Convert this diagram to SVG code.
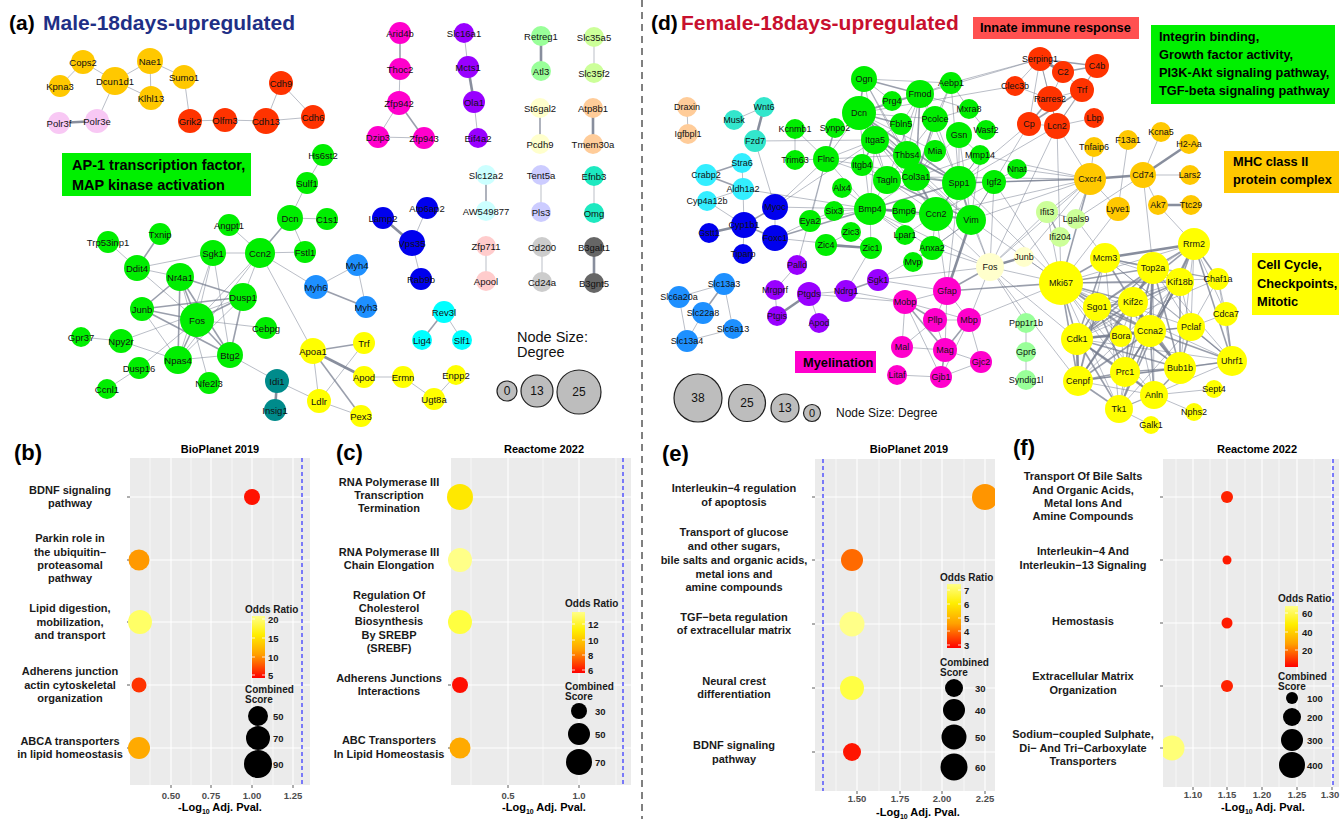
<svg xmlns="http://www.w3.org/2000/svg" width="1341" height="819" viewBox="0 0 1341 819">
<style>
text{font-family:"Liberation Sans",Arial,Helvetica,sans-serif}
.e path{fill:none;stroke:#737a8c}
.e .t{stroke-width:.9;stroke-opacity:.55}
.e .w{stroke-width:1.6;stroke-opacity:.72}
.e .k{stroke-width:2.6;stroke-opacity:.85}
.na text{font-size:9.5px;text-anchor:middle;dominant-baseline:central;fill:#111}
.nd text{font-size:9px;text-anchor:middle;dominant-baseline:central;fill:#111}
.o{fill:#ffc800}.pk{fill:#f8c8f4}.r{fill:#ff3300}.g{fill:#00ee00}.lb{fill:#1e90ff}.tl{fill:#008b8b}
.y{fill:#ffff00}.b{fill:#0000ee}.cy{fill:#00ffff}.mg{fill:#ff00cc}.p{fill:#9900ff}.l1{fill:#99ff99}
.ly{fill:#ffffcc}.l2{fill:#ccff99}.pe{fill:#ffcc99}.lc{fill:#ccffff}.lv{fill:#ccccff}.aq{fill:#1de9c0}
.pp{fill:#ffcccc}.gr{fill:#cccccc}.dg{fill:#666666}.tq{fill:#33e6cc}.c2{fill:#33eeff}
.hd{font-size:21px;font-weight:bold}
.box{font-size:12.8px;font-weight:bold;fill:#000}
.lab{font-size:11px;font-weight:bold;text-anchor:middle;fill:#1a1a1a}
.ttl{font-size:11px;font-weight:bold;text-anchor:middle;fill:#000}
.tk{font-size:9.5px;font-weight:bold;text-anchor:middle;fill:#4d4d4d}
.ax{font-size:11px;font-weight:bold;text-anchor:middle;fill:#000}
.lg{font-size:10px;font-weight:bold;fill:#1a1a1a}
.lgn{font-size:9.5px;font-weight:bold;fill:#1a1a1a;dominant-baseline:central}
.pl{font-size:22px;font-weight:bold;fill:#000}
.mj{stroke:#fff;stroke-width:1.1}
.mn{stroke:#fff;stroke-width:.6}
.dsh{stroke:#3d3dff;stroke-width:1.3;stroke-dasharray:4 3}
.tc{stroke:#333;stroke-width:.8}
.leg circle{fill:#bdbdbd;stroke:#222;stroke-width:1.2}
.leg text{text-anchor:middle;dominant-baseline:central;fill:#111}
</style>
<defs>
<linearGradient id="cb" x1="0" y1="0" x2="0" y2="1">
<stop offset="0" stop-color="#ffff88"/><stop offset=".3" stop-color="#ffee00"/><stop offset=".62" stop-color="#ffa000"/><stop offset="1" stop-color="#ff0000"/>
</linearGradient>
<clipPath id="ce"><rect x="815" y="459" width="180" height="332"/></clipPath>
<clipPath id="cf"><rect x="1163" y="459" width="176" height="328"/></clipPath>
</defs>
<rect width="1341" height="819" fill="#fff"/>
<line x1="642" y1="0" x2="642" y2="819" stroke="#000" stroke-width="1" stroke-dasharray="7 5"/>

<!-- Panel (a) headings -->
<text class="hd" x="9" y="30" fill="#000">(a)</text>
<text class="hd" x="43" y="30" fill="#1f2f86">Male-18days-upregulated</text>
<g id="a-box-ap1">
<rect x="62" y="153" width="189" height="43" fill="#00f000"/>
<text x="72" y="170" font-size="14.5" font-weight="bold">AP-1 transcription factor,</text>
<text x="72" y="190" font-size="14.5" font-weight="bold">MAP kinase activation</text>
</g>

<!-- Panel (a) connectors -->
<g id="a-connectors" class="e">
<path class="t" d="M83 62L60 86"/><path class="t" d="M83 62L115 81"/><path class="t" d="M115 81L150 61"/>
<path class="t" d="M115 81L151 98"/><path class="t" d="M150 61L151 98"/><path class="t" d="M150 61L184 77"/>
<path class="t" d="M115 81L97 121"/><path class="k" d="M59 123L97 121"/><path class="t" d="M184 77L190 121"/>
<path class="t" d="M190 121L225 120"/><path class="t" d="M225 120L266 121"/><path class="t" d="M266 121L281 83"/>
<path class="t" d="M281 83L313 117"/><path class="t" d="M266 121L313 117"/>
<path class="t" d="M323 155L307 183"/><path class="t" d="M307 183L290 218"/><path class="t" d="M290 218L327 219"/>
<path class="t" d="M290 218L305 252"/><path class="w" d="M290 218L260 253"/><path class="t" d="M229 225L260 253"/>
<path class="t" d="M260 253L305 252"/><path class="t" d="M213 253L260 253"/><path class="t" d="M260 253L316 287"/>
<path class="t" d="M260 253L313 351"/><path class="t" d="M260 253L197 320"/><path class="t" d="M260 253L243 297"/>
<path class="t" d="M260 253L178 360"/><path class="w" d="M160 234L137 268"/><path class="t" d="M108 242L137 268"/>
<path class="t" d="M137 268L213 253"/><path class="t" d="M137 268L180 277"/><path class="t" d="M137 268L197 320"/>
<path class="w" d="M180 277L142 309"/><path class="w" d="M180 277L197 320"/><path class="w" d="M180 277L243 297"/>
<path class="w" d="M180 277L230 355"/><path class="w" d="M180 277L178 360"/><path class="t" d="M213 253L197 320"/>
<path class="t" d="M213 253L230 355"/><path class="t" d="M213 253L178 360"/><path class="w" d="M142 309L197 320"/>
<path class="w" d="M142 309L243 297"/><path class="w" d="M142 309L230 355"/><path class="t" d="M142 309L178 360"/>
<path class="w" d="M197 320L243 297"/><path class="w" d="M197 320L230 355"/><path class="w" d="M197 320L178 360"/>
<path class="t" d="M197 320L266 328"/><path class="w" d="M243 297L230 355"/><path class="t" d="M243 297L178 360"/>
<path class="t" d="M121 341L81 337"/><path class="t" d="M121 341L243 297"/><path class="t" d="M121 341L178 360"/>
<path class="t" d="M178 360L230 355"/><path class="t" d="M209 383L180 277"/><path class="t" d="M139 368L197 320"/>
<path class="t" d="M107 389L139 368"/><path class="t" d="M230 355L277 381"/><path class="k" d="M277 381L275 410"/>
<path class="t" d="M277 381L319 401"/><path class="t" d="M316 287L357 265"/><path class="w" d="M316 287L366 307"/>
<path class="t" d="M357 265L366 307"/><path class="w" d="M313 351L364 343"/><path class="k" d="M313 351L364 377"/>
<path class="t" d="M313 351L319 401"/><path class="w" d="M313 351L361 416"/><path class="t" d="M364 343L319 401"/>
<path class="t" d="M319 401L361 416"/><path class="t" d="M364 377L403 377"/><path class="t" d="M403 377L434 399"/>
<path class="t" d="M434 399L456 375"/>
<path class="k" d="M383 218L412 243"/><path class="t" d="M427 208L412 243"/><path class="t" d="M412 243L421 279"/>
<path class="w" d="M400 33L400 69"/><path class="t" d="M400 69L399 103"/><path class="t" d="M399 103L378 137"/>
<path class="w" d="M399 103L424 138"/><path class="t" d="M378 137L424 138"/>
<path class="t" d="M464 33L468 67"/><path class="k" d="M468 67L474 102"/><path class="t" d="M474 102L478 138"/>
<path class="k" d="M541 36L541 71"/><path class="w" d="M540 108L540 144"/><path class="t" d="M594 37L594 73"/>
<path class="k" d="M593 108L593 144"/><path class="w" d="M486 175L486 211"/><path class="t" d="M541 175L541 212"/>
<path class="t" d="M594 176L594 213"/><path class="t" d="M486 246L486 281"/><path class="t" d="M542 247L542 282"/>
<path class="k" d="M594 247L594 283"/><path class="w" d="M444 312L422 340"/><path class="t" d="M444 312L462 340"/>
</g>

<!-- Panel (a) nodes -->
<g class="na">
<g id="a-Cops2"><circle class="o" cx="83" cy="62" r="12"/><text x="83" y="62">Cops2</text></g>
<g id="a-Kpna3"><circle class="o" cx="60" cy="86" r="11"/><text x="60" y="86">Kpna3</text></g>
<g id="a-Dcun1d1"><circle class="o" cx="115" cy="81" r="14"/><text x="115" y="81">Dcun1d1</text></g>
<g id="a-Nae1"><circle class="o" cx="150" cy="61" r="13"/><text x="150" y="61">Nae1</text></g>
<g id="a-Klhl13"><circle class="o" cx="151" cy="98" r="12"/><text x="151" y="98">Klhl13</text></g>
<g id="a-Sumo1"><circle class="o" cx="184" cy="77" r="12"/><text x="184" y="77">Sumo1</text></g>
<g id="a-Polr3f"><circle class="pk" cx="59" cy="123" r="11"/><text x="59" y="123">Polr3f</text></g>
<g id="a-Polr3e"><circle class="pk" cx="97" cy="121" r="12"/><text x="97" y="121">Polr3e</text></g>
<g id="a-Grik2"><circle class="r" cx="190" cy="121" r="12"/><text x="190" y="121">Grik2</text></g>
<g id="a-Olfm3"><circle class="r" cx="225" cy="120" r="12"/><text x="225" y="120">Olfm3</text></g>
<g id="a-Cdh13"><circle class="r" cx="266" cy="121" r="13"/><text x="266" y="121">Cdh13</text></g>
<g id="a-Cdh9"><circle class="r" cx="281" cy="83" r="12"/><text x="281" y="83">Cdh9</text></g>
<g id="a-Cdh6"><circle class="r" cx="313" cy="117" r="12"/><text x="313" y="117">Cdh6</text></g>
<g id="a-Hs6st2"><circle class="g" cx="323" cy="155" r="11"/><text x="323" y="155">Hs6st2</text></g>
<g id="a-Sulf1"><circle class="g" cx="307" cy="183" r="11"/><text x="307" y="183">Sulf1</text></g>
<g id="a-Dcn"><circle class="g" cx="290" cy="218" r="13"/><text x="290" y="218">Dcn</text></g>
<g id="a-C1s1"><circle class="g" cx="327" cy="219" r="11"/><text x="327" y="219">C1s1</text></g>
<g id="a-Fstl1"><circle class="g" cx="305" cy="252" r="11"/><text x="305" y="252">Fstl1</text></g>
<g id="a-Angpt1"><circle class="g" cx="229" cy="225" r="11"/><text x="229" y="225">Angpt1</text></g>
<g id="a-Txnip"><circle class="g" cx="160" cy="234" r="11"/><text x="160" y="234">Txnip</text></g>
<g id="a-Trp53inp1"><circle class="g" cx="108" cy="242" r="11"/><text x="108" y="242">Trp53inp1</text></g>
<g id="a-Ccn2"><circle class="g" cx="260" cy="253" r="15"/><text x="260" y="253">Ccn2</text></g>
<g id="a-Sgk1"><circle class="g" cx="213" cy="253" r="13"/><text x="213" y="253">Sgk1</text></g>
<g id="a-Ddit4"><circle class="g" cx="137" cy="268" r="13"/><text x="137" y="268">Ddit4</text></g>
<g id="a-Nr4a1"><circle class="g" cx="180" cy="277" r="14"/><text x="180" y="277">Nr4a1</text></g>
<g id="a-Dusp1"><circle class="g" cx="243" cy="297" r="14"/><text x="243" y="297">Dusp1</text></g>
<g id="a-Junb"><circle class="g" cx="142" cy="309" r="12"/><text x="142" y="309">Junb</text></g>
<g id="a-Fos"><circle class="g" cx="197" cy="320" r="17"/><text x="197" y="320">Fos</text></g>
<g id="a-Cebpg"><circle class="g" cx="266" cy="328" r="11"/><text x="266" y="328">Cebpg</text></g>
<g id="a-Gpr37"><circle class="g" cx="81" cy="337" r="10"/><text x="81" y="337">Gpr37</text></g>
<g id="a-Npy2r"><circle class="g" cx="121" cy="341" r="12"/><text x="121" y="341">Npy2r</text></g>
<g id="a-Dusp16"><circle class="g" cx="139" cy="368" r="11"/><text x="139" y="368">Dusp16</text></g>
<g id="a-Npas4"><circle class="g" cx="178" cy="360" r="14"/><text x="178" y="360">Npas4</text></g>
<g id="a-Btg2"><circle class="g" cx="230" cy="355" r="13"/><text x="230" y="355">Btg2</text></g>
<g id="a-Nfe2l3"><circle class="g" cx="209" cy="383" r="11"/><text x="209" y="383">Nfe2l3</text></g>
<g id="a-Ccnl1"><circle class="g" cx="107" cy="389" r="10"/><text x="107" y="389">Ccnl1</text></g>
<g id="a-Myh6"><circle class="lb" cx="316" cy="287" r="12"/><text x="316" y="287">Myh6</text></g>
<g id="a-Myh4"><circle class="lb" cx="357" cy="265" r="11"/><text x="357" y="265">Myh4</text></g>
<g id="a-Myh3"><circle class="lb" cx="366" cy="307" r="11"/><text x="366" y="307">Myh3</text></g>
<g id="a-Idi1"><circle class="tl" cx="277" cy="381" r="12"/><text x="277" y="381">Idi1</text></g>
<g id="a-Insig1"><circle class="tl" cx="275" cy="410" r="11"/><text x="275" y="410">Insig1</text></g>
<g id="a-Apoa1"><circle class="y" cx="313" cy="351" r="13"/><text x="313" y="351">Apoa1</text></g>
<g id="a-Trf"><circle class="y" cx="364" cy="343" r="11"/><text x="364" y="343">Trf</text></g>
<g id="a-Apod"><circle class="y" cx="364" cy="377" r="11"/><text x="364" y="377">Apod</text></g>
<g id="a-Ldlr"><circle class="y" cx="319" cy="401" r="12"/><text x="319" y="401">Ldlr</text></g>
<g id="a-Pex3"><circle class="y" cx="361" cy="416" r="11"/><text x="361" y="416">Pex3</text></g>
<g id="a-Ermn"><circle class="y" cx="403" cy="377" r="11"/><text x="403" y="377">Ermn</text></g>
<g id="a-Enpp2"><circle class="y" cx="456" cy="375" r="10"/><text x="456" y="375">Enpp2</text></g>
<g id="a-Ugt8a"><circle class="y" cx="434" cy="399" r="11"/><text x="434" y="399">Ugt8a</text></g>
<g id="a-Lamp2"><circle class="b" cx="383" cy="218" r="11"/><text x="383" y="218">Lamp2</text></g>
<g id="a-Atp6ap2"><circle class="b" cx="427" cy="208" r="11"/><text x="427" y="208">Atp6ap2</text></g>
<g id="a-Vps35"><circle class="b" cx="412" cy="243" r="13"/><text x="412" y="243">Vps35</text></g>
<g id="a-Rab9b"><circle class="b" cx="421" cy="279" r="11"/><text x="421" y="279">Rab9b</text></g>
<g id="a-Rev3l"><circle class="cy" cx="444" cy="312" r="11"/><text x="444" y="312">Rev3l</text></g>
<g id="a-Lig4"><circle class="cy" cx="422" cy="340" r="10"/><text x="422" y="340">Lig4</text></g>
<g id="a-Slf1"><circle class="cy" cx="462" cy="340" r="10"/><text x="462" y="340">Slf1</text></g>
<g id="a-Arid4b"><circle class="mg" cx="400" cy="33" r="11"/><text x="400" y="33">Arid4b</text></g>
<g id="a-Thoc2"><circle class="mg" cx="400" cy="69" r="11"/><text x="400" y="69">Thoc2</text></g>
<g id="a-Zfp942"><circle class="mg" cx="399" cy="103" r="12"/><text x="399" y="103">Zfp942</text></g>
<g id="a-Dzip3"><circle class="mg" cx="378" cy="137" r="11"/><text x="378" y="137">Dzip3</text></g>
<g id="a-Zfp943"><circle class="mg" cx="424" cy="138" r="11"/><text x="424" y="138">Zfp943</text></g>
<g id="a-Slc16a1"><circle class="p" cx="464" cy="33" r="10"/><text x="464" y="33">Slc16a1</text></g>
<g id="a-Mcts1"><circle class="p" cx="468" cy="67" r="11"/><text x="468" y="67">Mcts1</text></g>
<g id="a-Ola1"><circle class="p" cx="474" cy="102" r="11"/><text x="474" y="102">Ola1</text></g>
<g id="a-Eif4a2"><circle class="p" cx="478" cy="138" r="10"/><text x="478" y="138">Eif4a2</text></g>
<g id="a-Retreg1"><circle class="l1" cx="541" cy="36" r="10"/><text x="541" y="36">Retreg1</text></g>
<g id="a-Atl3"><circle class="l1" cx="541" cy="71" r="10"/><text x="541" y="71">Atl3</text></g>
<g id="a-St6gal2"><circle class="ly" cx="540" cy="108" r="10"/><text x="540" y="108">St6gal2</text></g>
<g id="a-Pcdh9"><circle class="ly" cx="540" cy="144" r="10"/><text x="540" y="144">Pcdh9</text></g>
<g id="a-Slc35a5"><circle class="l2" cx="594" cy="37" r="10"/><text x="594" y="37">Slc35a5</text></g>
<g id="a-Slc35f2"><circle class="l2" cx="594" cy="73" r="10"/><text x="594" y="73">Slc35f2</text></g>
<g id="a-Atp8b1"><circle class="pe" cx="593" cy="108" r="10"/><text x="593" y="108">Atp8b1</text></g>
<g id="a-Tmem30a"><circle class="pe" cx="593" cy="144" r="10"/><text x="593" y="144">Tmem30a</text></g>
<g id="a-Slc12a2"><circle class="lc" cx="486" cy="175" r="10"/><text x="486" y="175">Slc12a2</text></g>
<g id="a-AW549877"><circle class="lc" cx="486" cy="211" r="10"/><text x="486" y="211">AW549877</text></g>
<g id="a-Tent5a"><circle class="lv" cx="541" cy="175" r="10"/><text x="541" y="175">Tent5a</text></g>
<g id="a-Pls3"><circle class="lv" cx="541" cy="212" r="10"/><text x="541" y="212">Pls3</text></g>
<g id="a-Efnb3"><circle class="aq" cx="594" cy="176" r="10"/><text x="594" y="176">Efnb3</text></g>
<g id="a-Omg"><circle class="aq" cx="594" cy="213" r="10"/><text x="594" y="213">Omg</text></g>
<g id="a-Zfp711"><circle class="pp" cx="486" cy="246" r="10"/><text x="486" y="246">Zfp711</text></g>
<g id="a-Apool"><circle class="pp" cx="486" cy="281" r="10"/><text x="486" y="281">Apool</text></g>
<g id="a-Cd200"><circle class="gr" cx="542" cy="247" r="10"/><text x="542" y="247">Cd200</text></g>
<g id="a-Cd24a"><circle class="gr" cx="542" cy="282" r="10"/><text x="542" y="282">Cd24a</text></g>
<g id="a-B3galt1"><circle class="dg" cx="594" cy="247" r="10"/><text x="594" y="247">B3galt1</text></g>
<g id="a-B3gnt5"><circle class="dg" cx="594" cy="283" r="10"/><text x="594" y="283">B3gnt5</text></g>
</g>
<g id="a-legend" class="leg">
<text x="517" y="342" font-size="14.5" style="text-anchor:start;dominant-baseline:auto">Node Size:</text>
<text x="517" y="357" font-size="14.5" style="text-anchor:start;dominant-baseline:auto">Degree</text>
<circle cx="507" cy="391" r="10"/><text x="507" y="391" font-size="12">0</text>
<circle cx="537" cy="391" r="16"/><text x="537" y="391" font-size="12">13</text>
<circle cx="579" cy="392" r="22"/><text x="579" y="392" font-size="12">25</text>
</g>

<!-- Panel (d) headings and annotation boxes -->
<text class="hd" x="651" y="30" fill="#000">(d)</text>
<text class="hd" x="681" y="30" fill="#c8102e">Female-18days-upregulated</text>
<g id="d-box-innate"><rect x="973" y="17" width="166" height="22" fill="#ff5050"/><text class="box" x="980" y="32">Innate immune response</text></g>
<g id="d-box-integrin"><rect x="1151" y="25" width="184" height="79" fill="#00f000"/>
<text class="box" x="1159" y="41">Integrin binding,</text><text class="box" x="1159" y="59">Growth factor activity,</text>
<text class="box" x="1159" y="77">PI3K-Akt signaling pathway,</text><text class="box" x="1159" y="95">TGF-beta signaling pathway</text></g>
<g id="d-box-mhc"><rect x="1224" y="151" width="115" height="42" fill="#ffc800"/>
<text class="box" x="1233" y="166">MHC class II</text><text class="box" x="1233" y="184">protein complex</text></g>
<g id="d-box-cellcycle"><rect x="1252" y="253" width="87" height="62" fill="#ffff00"/>
<text class="box" x="1257" y="269">Cell Cycle,</text><text class="box" x="1257" y="288">Checkpoints,</text><text class="box" x="1257" y="306">Mitotic</text></g>
<g id="d-box-myelination"><rect x="795" y="351" width="81" height="22" fill="#ff00cc"/><text class="box" x="803" y="367">Myelination</text></g>

<!-- Panel (d) connectors -->
<g id="d-connectors" class="e">
<path class="k" d="M1040 59L1063 72"/><path class="w" d="M1040 59L1097 66"/><path class="w" d="M1063 72L1097 66"/>
<path class="t" d="M1040 59L1050 99"/><path class="t" d="M1040 59L1029 124"/><path class="t" d="M1040 59L1015 86"/>
<path class="t" d="M1040 59L1057 126"/><path class="t" d="M1015 86L1050 99"/><path class="w" d="M1050 99L1029 124"/>
<path class="t" d="M1050 99L1057 126"/><path class="t" d="M1050 99L1082 90"/><path class="w" d="M1082 90L1029 124"/>
<path class="t" d="M1082 90L1057 126"/><path class="t" d="M1082 90L1097 66"/><path class="t" d="M1063 72L1082 90"/>
<path class="t" d="M1063 72L1050 99"/><path class="t" d="M1057 126L1094 118"/><path class="t" d="M1057 126L1029 124"/>
<path class="t" d="M1097 66L1057 126"/><path class="t" d="M920 94L1040 59"/><path class="t" d="M951 83L1040 59"/>
<path class="t" d="M859 113L1015 86"/><path class="t" d="M1029 124L959 183"/><path class="t" d="M1029 124L971 220"/>
<path class="t" d="M1057 126L1090 179"/><path class="t" d="M1057 126L1061 283"/><path class="t" d="M1057 126L990 267"/>
<path class="t" d="M1057 126L959 183"/>
<path class="k" d="M1090 179L1143 175"/><path class="k" d="M1143 175L1189 144"/><path class="t" d="M1143 175L1190 175"/>
<path class="t" d="M1143 175L1158 205"/><path class="t" d="M1143 175L1161 132"/><path class="k" d="M1158 205L1191 205"/>
<path class="t" d="M1090 179L1094 147"/><path class="t" d="M1090 179L1118 209"/><path class="t" d="M1128 140L1118 209"/>
<path class="t" d="M1143 175L1153 268"/><path class="t" d="M1158 205L1194 244"/><path class="t" d="M1090 179L1047 212"/>
<path class="w" d="M1090 179L1061 283"/><path class="w" d="M1090 179L959 183"/><path class="t" d="M1090 179L994 182"/>
<path class="t" d="M1090 179L971 220"/><path class="t" d="M1090 179L936 214"/><path class="t" d="M1090 179L990 267"/>
<path class="t" d="M1090 179L1024 257"/><path class="t" d="M1090 179L1076 219"/><path class="t" d="M1090 179L916 177"/>
<path class="t" d="M1143 175L1076 219"/><path class="t" d="M1118 209L1061 283"/><path class="t" d="M1090 179L1017 169"/>
<path class="t" d="M1090 179L980 155"/>
<path class="t" d="M1047 212L1076 219"/><path class="w" d="M1047 212L1060 237"/><path class="t" d="M1047 212L1061 283"/>
<path class="t" d="M1047 212L990 267"/><path class="t" d="M1076 219L1105 258"/>
<path class="k" d="M990 267L1024 257"/><path class="t" d="M990 267L1061 283"/><path class="t" d="M990 267L936 214"/>
<path class="t" d="M990 267L959 183"/><path class="t" d="M990 267L994 182"/><path class="w" d="M990 267L947 291"/>
<path class="t" d="M990 267L971 220"/><path class="t" d="M990 267L932 248"/><path class="t" d="M990 267L969 320"/>
<path class="t" d="M990 267L1026 323"/><path class="t" d="M990 267L1077 339"/><path class="t" d="M990 267L1078 381"/>
<path class="t" d="M1024 257L1061 283"/><path class="t" d="M990 267L878 280"/><path class="t" d="M990 267L870 209"/>
<path class="t" d="M1026 323L1026 352"/><path class="t" d="M1026 352L1026 380"/>
<path class="t" d="M947 291L905 302"/><path class="t" d="M947 291L935 320"/><path class="t" d="M947 291L969 320"/>
<path class="t" d="M947 291L945 350"/><path class="k" d="M947 291L971 220"/><path class="w" d="M947 291L1061 283"/>
<path class="t" d="M947 291L936 214"/><path class="t" d="M947 291L878 280"/><path class="t" d="M947 291L959 183"/>
<path class="w" d="M905 302L935 320"/><path class="w" d="M905 302L945 350"/><path class="t" d="M905 302L902 347"/>
<path class="t" d="M905 302L969 320"/><path class="t" d="M905 302L941 377"/><path class="t" d="M935 320L945 350"/>
<path class="t" d="M935 320L969 320"/><path class="t" d="M935 320L902 347"/><path class="w" d="M969 320L945 350"/>
<path class="t" d="M969 320L981 362"/><path class="t" d="M969 320L941 377"/><path class="t" d="M902 347L945 350"/>
<path class="w" d="M945 350L941 377"/><path class="t" d="M945 350L981 362"/><path class="t" d="M941 377L897 375"/>
<path class="t" d="M941 377L981 362"/><path class="t" d="M969 320L1061 283"/><path class="t" d="M846 291L905 302"/>
<path class="t" d="M809 294L905 302"/>
<path class="t" d="M797 265L775 290"/><path class="t" d="M775 290L777 316"/><path class="k" d="M809 294L777 316"/>
<path class="t" d="M809 294L819 323"/><path class="t" d="M809 294L846 291"/><path class="w" d="M846 291L878 280"/>
<path class="t" d="M797 265L826 159"/><path class="t" d="M846 291L871 248"/><path class="t" d="M878 280L932 248"/>
<path class="w" d="M775 207L744 225"/><path class="w" d="M744 225L775 238"/><path class="k" d="M744 225L709 233"/>
<path class="t" d="M744 225L743 254"/><path class="t" d="M744 225L743 189"/><path class="t" d="M775 207L755 141"/>
<path class="t" d="M775 207L826 159"/><path class="t" d="M775 207L875 140"/><path class="t" d="M775 238L871 248"/>
<path class="w" d="M775 238L870 209"/><path class="t" d="M775 238L810 221"/><path class="t" d="M707 201L744 225"/>
<path class="t" d="M775 207L870 209"/><path class="t" d="M775 207L775 238"/>
<path class="t" d="M743 189L742 163"/><path class="w" d="M743 189L706 175"/><path class="w" d="M706 175L742 163"/>
<path class="t" d="M743 189L870 209"/><path class="t" d="M707 201L743 189"/>
<path class="k" d="M764 107L755 141"/><path class="t" d="M764 107L734 120"/><path class="t" d="M755 141L875 140"/>
<path class="t" d="M687 107L688 134"/>
<path class="t" d="M724 284L679 297"/><path class="w" d="M724 284L703 313"/><path class="t" d="M724 284L733 329"/>
<path class="t" d="M679 297L687 341"/><path class="t" d="M703 313L687 341"/><path class="t" d="M687 341L733 329"/>
<path class="t" d="M795 129L795 160"/><path class="t" d="M795 129L826 159"/><path class="w" d="M835 128L826 159"/>
<path class="t" d="M795 160L826 159"/><path class="t" d="M826 159L875 140"/><path class="t" d="M826 159L862 165"/>
<path class="t" d="M826 159L859 113"/><path class="t" d="M826 159L887 180"/><path class="t" d="M826 159L870 209"/>
<path class="t" d="M826 159L810 221"/><path class="t" d="M826 159L907 155"/>
<path class="w" d="M864 79L859 113"/><path class="w" d="M864 79L920 94"/><path class="t" d="M864 79L875 140"/>
<path class="t" d="M864 79L907 155"/><path class="t" d="M864 79L916 177"/><path class="t" d="M864 79L951 83"/>
<path class="t" d="M864 79L892 101"/><path class="w" d="M859 113L920 94"/><path class="w" d="M859 113L875 140"/>
<path class="w" d="M859 113L907 155"/><path class="w" d="M859 113L916 177"/><path class="t" d="M859 113L887 180"/>
<path class="w" d="M859 113L901 124"/><path class="t" d="M859 113L870 209"/><path class="w" d="M859 113L959 183"/>
<path class="t" d="M859 113L936 214"/><path class="t" d="M859 113L892 101"/><path class="t" d="M859 113L935 119"/>
<path class="t" d="M859 113L935 151"/><path class="t" d="M859 113L971 220"/><path class="t" d="M920 94L951 83"/>
<path class="w" d="M920 94L916 177"/><path class="t" d="M920 94L907 155"/><path class="t" d="M920 94L935 119"/>
<path class="t" d="M920 94L892 101"/><path class="t" d="M920 94L969 109"/><path class="t" d="M920 94L901 124"/>
<path class="t" d="M920 94L959 183"/><path class="t" d="M920 94L887 180"/><path class="t" d="M951 83L935 119"/>
<path class="t" d="M951 83L916 177"/><path class="t" d="M951 83L969 109"/><path class="t" d="M951 83L959 183"/>
<path class="w" d="M935 119L916 177"/><path class="t" d="M935 119L959 183"/><path class="t" d="M935 119L907 155"/>
<path class="t" d="M935 119L969 109"/><path class="t" d="M901 124L916 177"/><path class="t" d="M901 124L907 155"/>
<path class="t" d="M901 124L875 140"/><path class="w" d="M875 140L862 165"/><path class="t" d="M875 140L887 180"/>
<path class="w" d="M875 140L959 183"/><path class="t" d="M875 140L916 177"/><path class="t" d="M875 140L936 214"/>
<path class="t" d="M875 140L971 220"/><path class="t" d="M875 140L907 155"/><path class="t" d="M875 140L870 209"/>
<path class="t" d="M862 165L887 180"/><path class="t" d="M862 165L959 183"/><path class="w" d="M907 155L916 177"/>
<path class="t" d="M907 155L959 183"/><path class="t" d="M907 155L936 214"/><path class="t" d="M907 155L887 180"/>
<path class="w" d="M887 180L971 220"/><path class="t" d="M887 180L936 214"/><path class="t" d="M887 180L916 177"/>
<path class="t" d="M887 180L870 209"/><path class="w" d="M916 177L959 183"/><path class="w" d="M916 177L936 214"/>
<path class="t" d="M916 177L980 155"/><path class="t" d="M916 177L971 220"/><path class="t" d="M916 177L935 151"/>
<path class="t" d="M916 177L870 209"/><path class="w" d="M959 183L936 214"/><path class="w" d="M959 183L971 220"/>
<path class="t" d="M959 183L994 182"/><path class="w" d="M959 183L870 209"/><path class="t" d="M959 183L980 155"/>
<path class="t" d="M959 183L959 135"/><path class="t" d="M959 183L1061 283"/><path class="t" d="M959 135L971 220"/>
<path class="t" d="M959 135L980 155"/><path class="t" d="M959 135L916 177"/><path class="t" d="M980 155L971 220"/>
<path class="t" d="M980 155L936 214"/><path class="t" d="M994 182L936 214"/><path class="t" d="M994 182L1017 169"/>
<path class="t" d="M994 182L971 220"/><path class="t" d="M994 182L1061 283"/><path class="k" d="M870 209L904 211"/>
<path class="w" d="M870 209L936 214"/><path class="t" d="M870 209L834 211"/><path class="t" d="M870 209L871 248"/>
<path class="t" d="M870 209L810 221"/><path class="t" d="M870 209L842 188"/><path class="t" d="M870 209L932 248"/>
<path class="t" d="M870 209L971 220"/><path class="t" d="M870 209L905 235"/><path class="t" d="M904 211L936 214"/>
<path class="w" d="M936 214L971 220"/><path class="t" d="M936 214L932 248"/><path class="t" d="M936 214L905 235"/>
<path class="t" d="M971 220L932 248"/><path class="t" d="M971 220L1061 283"/><path class="t" d="M971 220L913 262"/>
<path class="t" d="M851 232L871 248"/><path class="k" d="M826 245L871 248"/><path class="t" d="M851 232L826 245"/>
<path class="t" d="M834 211L810 221"/><path class="t" d="M986 130L969 109"/><path class="t" d="M913 262L932 248"/>
<path class="w" d="M1061 283L1105 258"/><path class="w" d="M1061 283L1153 268"/><path class="t" d="M1061 283L1194 244"/>
<path class="w" d="M1061 283L1097 307"/><path class="w" d="M1061 283L1133 302"/><path class="w" d="M1061 283L1077 339"/>
<path class="w" d="M1061 283L1078 381"/><path class="w" d="M1061 283L1150 331"/><path class="t" d="M1061 283L1125 372"/>
<path class="t" d="M1061 283L1180 368"/><path class="w" d="M1061 283L1180 282"/><path class="t" d="M1061 283L1119 409"/>
<path class="t" d="M1061 283L1154 395"/><path class="t" d="M1061 283L1121 336"/><path class="t" d="M1061 283L1191 327"/>
<path class="t" d="M1061 283L1232 361"/><path class="t" d="M1061 283L1218 279"/>
<path class="w" d="M1105 258L1153 268"/><path class="k" d="M1105 258L1194 244"/><path class="w" d="M1105 258L1077 339"/>
<path class="w" d="M1105 258L1150 331"/><path class="t" d="M1105 258L1191 327"/><path class="t" d="M1105 258L1119 409"/>
<path class="t" d="M1105 258L1232 361"/><path class="t" d="M1105 258L1218 279"/><path class="t" d="M1105 258L1078 381"/>
<path class="t" d="M1105 258L1180 282"/>
<path class="w" d="M1153 268L1194 244"/><path class="w" d="M1153 268L1180 282"/><path class="w" d="M1153 268L1133 302"/>
<path class="k" d="M1153 268L1150 331"/><path class="w" d="M1153 268L1077 339"/><path class="w" d="M1153 268L1180 368"/>
<path class="w" d="M1153 268L1125 372"/><path class="w" d="M1153 268L1078 381"/><path class="t" d="M1153 268L1191 327"/>
<path class="t" d="M1153 268L1232 361"/><path class="w" d="M1153 268L1097 307"/><path class="t" d="M1153 268L1154 395"/>
<path class="t" d="M1153 268L1218 279"/><path class="t" d="M1153 268L1119 409"/>
<path class="w" d="M1194 244L1180 282"/><path class="w" d="M1194 244L1218 279"/><path class="w" d="M1194 244L1077 339"/>
<path class="w" d="M1194 244L1150 331"/><path class="w" d="M1194 244L1232 361"/><path class="w" d="M1194 244L1119 409"/>
<path class="t" d="M1194 244L1191 327"/><path class="t" d="M1194 244L1226 314"/><path class="t" d="M1194 244L1180 368"/>
<path class="t" d="M1194 244L1097 307"/>
<path class="w" d="M1180 282L1133 302"/><path class="w" d="M1180 282L1150 331"/><path class="w" d="M1180 282L1180 368"/>
<path class="t" d="M1180 282L1077 339"/><path class="w" d="M1180 282L1125 372"/><path class="t" d="M1180 282L1097 307"/>
<path class="t" d="M1180 282L1078 381"/><path class="t" d="M1180 282L1191 327"/>
<path class="t" d="M1218 279L1232 361"/><path class="t" d="M1218 279L1191 327"/><path class="t" d="M1218 279L1226 314"/>
<path class="t" d="M1218 279L1077 339"/>
<path class="w" d="M1097 307L1133 302"/><path class="w" d="M1097 307L1077 339"/><path class="w" d="M1097 307L1078 381"/>
<path class="w" d="M1097 307L1150 331"/><path class="w" d="M1097 307L1180 368"/><path class="w" d="M1097 307L1125 372"/>
<path class="t" d="M1097 307L1121 336"/>
<path class="k" d="M1133 302L1150 331"/><path class="w" d="M1133 302L1077 339"/><path class="w" d="M1133 302L1125 372"/>
<path class="w" d="M1133 302L1180 368"/><path class="w" d="M1133 302L1078 381"/><path class="t" d="M1133 302L1121 336"/>
<path class="t" d="M1133 302L1154 395"/>
<path class="w" d="M1226 314L1232 361"/><path class="t" d="M1226 314L1191 327"/>
<path class="t" d="M1121 336L1150 331"/><path class="t" d="M1121 336L1077 339"/><path class="t" d="M1121 336L1125 372"/>
<path class="k" d="M1150 331L1077 339"/><path class="w" d="M1150 331L1191 327"/><path class="k" d="M1150 331L1180 368"/>
<path class="w" d="M1150 331L1125 372"/><path class="w" d="M1150 331L1078 381"/><path class="w" d="M1150 331L1232 361"/>
<path class="w" d="M1150 331L1154 395"/><path class="w" d="M1150 331L1119 409"/>
<path class="w" d="M1191 327L1232 361"/><path class="w" d="M1191 327L1180 368"/><path class="t" d="M1191 327L1077 339"/>
<path class="t" d="M1191 327L1119 409"/>
<path class="k" d="M1077 339L1078 381"/><path class="w" d="M1077 339L1125 372"/><path class="w" d="M1077 339L1180 368"/>
<path class="w" d="M1077 339L1119 409"/><path class="w" d="M1077 339L1154 395"/><path class="t" d="M1077 339L1232 361"/>
<path class="w" d="M1232 361L1180 368"/><path class="t" d="M1232 361L1119 409"/><path class="t" d="M1232 361L1078 381"/>
<path class="w" d="M1180 368L1125 372"/><path class="w" d="M1180 368L1078 381"/><path class="w" d="M1180 368L1154 395"/>
<path class="w" d="M1125 372L1078 381"/><path class="w" d="M1125 372L1154 395"/><path class="t" d="M1125 372L1119 409"/>
<path class="w" d="M1078 381L1119 409"/><path class="t" d="M1078 381L1154 395"/>
<path class="t" d="M1154 395L1214 389"/><path class="t" d="M1154 395L1194 412"/><path class="t" d="M1119 409L1151 425"/>
<path class="t" d="M1154 395L1119 409"/>
</g>

<!-- Panel (d) nodes -->
<g class="nd">
<g id="d-Draxin"><circle class="pe" cx="687" cy="107" r="10"/><text x="687" y="107">Draxin</text></g>
<g id="d-Igfbpl1"><circle class="pe" cx="688" cy="134" r="10"/><text x="688" y="134">Igfbpl1</text></g>
<g id="d-Wnt6"><circle class="tq" cx="764" cy="107" r="10"/><text x="764" y="107">Wnt6</text></g>
<g id="d-Musk"><circle class="tq" cx="734" cy="120" r="10"/><text x="734" y="120">Musk</text></g>
<g id="d-Fzd7"><circle class="tq" cx="755" cy="141" r="11"/><text x="755" y="141">Fzd7</text></g>
<g id="d-Stra6"><circle class="c2" cx="742" cy="163" r="10"/><text x="742" y="163">Stra6</text></g>
<g id="d-Crabp2"><circle class="c2" cx="706" cy="175" r="11"/><text x="706" y="175">Crabp2</text></g>
<g id="d-Aldh1a2"><circle class="c2" cx="743" cy="189" r="11"/><text x="743" y="189">Aldh1a2</text></g>
<g id="d-Cyp4a12b"><circle class="c2" cx="707" cy="201" r="10"/><text x="707" y="201">Cyp4a12b</text></g>
<g id="d-Myoc"><circle class="b" cx="775" cy="207" r="13"/><text x="775" y="207">Myoc</text></g>
<g id="d-Cyp1b1"><circle class="b" cx="744" cy="225" r="13"/><text x="744" y="225">Cyp1b1</text></g>
<g id="d-Gstt1"><circle class="b" cx="709" cy="233" r="10"/><text x="709" y="233">Gstt1</text></g>
<g id="d-Foxc1"><circle class="b" cx="775" cy="238" r="13"/><text x="775" y="238">Foxc1</text></g>
<g id="d-Tiparp"><circle class="b" cx="743" cy="254" r="10"/><text x="743" y="254">Tiparp</text></g>
<g id="d-Slc13a3"><circle class="lb" cx="724" cy="284" r="11"/><text x="724" y="284">Slc13a3</text></g>
<g id="d-Slc6a20a"><circle class="lb" cx="679" cy="297" r="11"/><text x="679" y="297">Slc6a20a</text></g>
<g id="d-Slc22a8"><circle class="lb" cx="703" cy="313" r="11"/><text x="703" y="313">Slc22a8</text></g>
<g id="d-Slc6a13"><circle class="lb" cx="733" cy="329" r="10"/><text x="733" y="329">Slc6a13</text></g>
<g id="d-Slc13a4"><circle class="lb" cx="687" cy="341" r="11"/><text x="687" y="341">Slc13a4</text></g>
<g id="d-Palld"><circle class="p" cx="797" cy="265" r="10"/><text x="797" y="265">Palld</text></g>
<g id="d-Mrgprf"><circle class="p" cx="775" cy="290" r="10"/><text x="775" y="290">Mrgprf</text></g>
<g id="d-Ptgds"><circle class="p" cx="809" cy="294" r="12"/><text x="809" y="294">Ptgds</text></g>
<g id="d-Ptgis"><circle class="p" cx="777" cy="316" r="10"/><text x="777" y="316">Ptgis</text></g>
<g id="d-Apod"><circle class="p" cx="819" cy="323" r="10"/><text x="819" y="323">Apod</text></g>
<g id="d-Ndrg1"><circle class="p" cx="846" cy="291" r="11"/><text x="846" y="291">Ndrg1</text></g>
<g id="d-Sgk1"><circle class="p" cx="878" cy="280" r="11"/><text x="878" y="280">Sgk1</text></g>
<g id="d-Kcnmb1"><circle class="g" cx="795" cy="129" r="10"/><text x="795" y="129">Kcnmb1</text></g>
<g id="d-Synpo2"><circle class="g" cx="835" cy="128" r="10"/><text x="835" y="128">Synpo2</text></g>
<g id="d-Trim63"><circle class="g" cx="795" cy="160" r="10"/><text x="795" y="160">Trim63</text></g>
<g id="d-Flnc"><circle class="g" cx="826" cy="159" r="13"/><text x="826" y="159">Flnc</text></g>
<g id="d-Alx4"><circle class="g" cx="842" cy="188" r="10"/><text x="842" y="188">Alx4</text></g>
<g id="d-Six3"><circle class="g" cx="834" cy="211" r="10"/><text x="834" y="211">Six3</text></g>
<g id="d-Eya2"><circle class="g" cx="810" cy="221" r="11"/><text x="810" y="221">Eya2</text></g>
<g id="d-Zic3"><circle class="g" cx="851" cy="232" r="10"/><text x="851" y="232">Zic3</text></g>
<g id="d-Zic4"><circle class="g" cx="826" cy="245" r="11"/><text x="826" y="245">Zic4</text></g>
<g id="d-Zic1"><circle class="g" cx="871" cy="248" r="11"/><text x="871" y="248">Zic1</text></g>
<g id="d-Bmp4"><circle class="g" cx="870" cy="209" r="16"/><text x="870" y="209">Bmp4</text></g>
<g id="d-Ogn"><circle class="g" cx="864" cy="79" r="13"/><text x="864" y="79">Ogn</text></g>
<g id="d-Dcn"><circle class="g" cx="859" cy="113" r="17"/><text x="859" y="113">Dcn</text></g>
<g id="d-Prg4"><circle class="g" cx="892" cy="101" r="10"/><text x="892" y="101">Prg4</text></g>
<g id="d-Fmod"><circle class="g" cx="920" cy="94" r="14"/><text x="920" y="94">Fmod</text></g>
<g id="d-Aebp1"><circle class="g" cx="951" cy="83" r="11"/><text x="951" y="83">Aebp1</text></g>
<g id="d-Fbln5"><circle class="g" cx="901" cy="124" r="11"/><text x="901" y="124">Fbln5</text></g>
<g id="d-Pcolce"><circle class="g" cx="935" cy="119" r="13"/><text x="935" y="119">Pcolce</text></g>
<g id="d-Mxra8"><circle class="g" cx="969" cy="109" r="10"/><text x="969" y="109">Mxra8</text></g>
<g id="d-Itga5"><circle class="g" cx="875" cy="140" r="14"/><text x="875" y="140">Itga5</text></g>
<g id="d-Gsn"><circle class="g" cx="959" cy="135" r="13"/><text x="959" y="135">Gsn</text></g>
<g id="d-Wasf2"><circle class="g" cx="986" cy="130" r="10"/><text x="986" y="130">Wasf2</text></g>
<g id="d-Itgb4"><circle class="g" cx="862" cy="165" r="11"/><text x="862" y="165">Itgb4</text></g>
<g id="d-Thbs4"><circle class="g" cx="907" cy="155" r="14"/><text x="907" y="155">Thbs4</text></g>
<g id="d-Mia"><circle class="g" cx="935" cy="151" r="11"/><text x="935" y="151">Mia</text></g>
<g id="d-Mmp14"><circle class="g" cx="980" cy="155" r="10"/><text x="980" y="155">Mmp14</text></g>
<g id="d-Nnat"><circle class="g" cx="1017" cy="169" r="10"/><text x="1017" y="169">Nnat</text></g>
<g id="d-Tagln"><circle class="g" cx="887" cy="180" r="14"/><text x="887" y="180">Tagln</text></g>
<g id="d-Col3a1"><circle class="g" cx="916" cy="177" r="14"/><text x="916" y="177">Col3a1</text></g>
<g id="d-Spp1"><circle class="g" cx="959" cy="183" r="17"/><text x="959" y="183">Spp1</text></g>
<g id="d-Igf2"><circle class="g" cx="994" cy="182" r="12"/><text x="994" y="182">Igf2</text></g>
<g id="d-Bmp6"><circle class="g" cx="904" cy="211" r="12"/><text x="904" y="211">Bmp6</text></g>
<g id="d-Ccn2"><circle class="g" cx="936" cy="214" r="17"/><text x="936" y="214">Ccn2</text></g>
<g id="d-Vim"><circle class="g" cx="971" cy="220" r="15"/><text x="971" y="220">Vim</text></g>
<g id="d-Lpar1"><circle class="g" cx="905" cy="235" r="10"/><text x="905" y="235">Lpar1</text></g>
<g id="d-Anxa2"><circle class="g" cx="932" cy="248" r="12"/><text x="932" y="248">Anxa2</text></g>
<g id="d-Mvp"><circle class="g" cx="913" cy="262" r="10"/><text x="913" y="262">Mvp</text></g>
<g id="d-Serping1"><circle class="r" cx="1040" cy="59" r="12"/><text x="1040" y="59">Serping1</text></g>
<g id="d-C2"><circle class="r" cx="1063" cy="72" r="11"/><text x="1063" y="72">C2</text></g>
<g id="d-C4b"><circle class="r" cx="1097" cy="66" r="12"/><text x="1097" y="66">C4b</text></g>
<g id="d-Clec3b"><circle class="r" cx="1015" cy="86" r="10"/><text x="1015" y="86">Clec3b</text></g>
<g id="d-Trf"><circle class="r" cx="1082" cy="90" r="12"/><text x="1082" y="90">Trf</text></g>
<g id="d-Rarres2"><circle class="r" cx="1050" cy="99" r="13"/><text x="1050" y="99">Rarres2</text></g>
<g id="d-Cp"><circle class="r" cx="1029" cy="124" r="12"/><text x="1029" y="124">Cp</text></g>
<g id="d-Lcn2"><circle class="r" cx="1057" cy="126" r="13"/><text x="1057" y="126">Lcn2</text></g>
<g id="d-Lbp"><circle class="r" cx="1094" cy="118" r="10"/><text x="1094" y="118">Lbp</text></g>
<g id="d-Tnfaip6"><circle class="o" cx="1094" cy="147" r="10"/><text x="1094" y="147">Tnfaip6</text></g>
<g id="d-F13a1"><circle class="o" cx="1128" cy="140" r="10"/><text x="1128" y="140">F13a1</text></g>
<g id="d-Kcna5"><circle class="o" cx="1161" cy="132" r="10"/><text x="1161" y="132">Kcna5</text></g>
<g id="d-H2-Aa"><circle class="o" cx="1189" cy="144" r="10"/><text x="1189" y="144">H2-Aa</text></g>
<g id="d-Cxcr4"><circle class="o" cx="1090" cy="179" r="16"/><text x="1090" y="179">Cxcr4</text></g>
<g id="d-Cd74"><circle class="o" cx="1143" cy="175" r="13"/><text x="1143" y="175">Cd74</text></g>
<g id="d-Lars2"><circle class="o" cx="1190" cy="175" r="10"/><text x="1190" y="175">Lars2</text></g>
<g id="d-Ak7"><circle class="o" cx="1158" cy="205" r="10"/><text x="1158" y="205">Ak7</text></g>
<g id="d-Ttc29"><circle class="o" cx="1191" cy="205" r="10"/><text x="1191" y="205">Ttc29</text></g>
<g id="d-Lyve1"><circle class="o" cx="1118" cy="209" r="12"/><text x="1118" y="209">Lyve1</text></g>
<g id="d-Ifit3"><circle class="l2" cx="1047" cy="212" r="11"/><text x="1047" y="212">Ifit3</text></g>
<g id="d-Lgals9"><circle class="l2" cx="1076" cy="219" r="10"/><text x="1076" y="219">Lgals9</text></g>
<g id="d-Ifi204"><circle class="l2" cx="1060" cy="237" r="10"/><text x="1060" y="237">Ifi204</text></g>
<g id="d-Fos"><circle class="ly" cx="990" cy="267" r="14"/><text x="990" y="267">Fos</text></g>
<g id="d-Junb"><circle class="ly" cx="1024" cy="257" r="10"/><text x="1024" y="257">Junb</text></g>
<g id="d-Gfap"><circle class="mg" cx="947" cy="291" r="14"/><text x="947" y="291">Gfap</text></g>
<g id="d-Mobp"><circle class="mg" cx="905" cy="302" r="12"/><text x="905" y="302">Mobp</text></g>
<g id="d-Pllp"><circle class="mg" cx="935" cy="320" r="12"/><text x="935" y="320">Pllp</text></g>
<g id="d-Mbp"><circle class="mg" cx="969" cy="320" r="12"/><text x="969" y="320">Mbp</text></g>
<g id="d-Mal"><circle class="mg" cx="902" cy="347" r="11"/><text x="902" y="347">Mal</text></g>
<g id="d-Mag"><circle class="mg" cx="945" cy="350" r="12"/><text x="945" y="350">Mag</text></g>
<g id="d-Gjc2"><circle class="mg" cx="981" cy="362" r="11"/><text x="981" y="362">Gjc2</text></g>
<g id="d-Litaf"><circle class="mg" cx="897" cy="375" r="10"/><text x="897" y="375">Litaf</text></g>
<g id="d-Gjb1"><circle class="mg" cx="941" cy="377" r="11"/><text x="941" y="377">Gjb1</text></g>
<g id="d-Ppp1r1b"><circle class="l1" cx="1026" cy="323" r="10"/><text x="1026" y="323">Ppp1r1b</text></g>
<g id="d-Gpr6"><circle class="l1" cx="1026" cy="352" r="10"/><text x="1026" y="352">Gpr6</text></g>
<g id="d-Syndig1l"><circle class="l1" cx="1026" cy="380" r="10"/><text x="1026" y="380">Syndig1l</text></g>
<g id="d-Mki67"><circle class="y" cx="1061" cy="283" r="22"/><text x="1061" y="283">Mki67</text></g>
<g id="d-Rrm2"><circle class="y" cx="1194" cy="244" r="16"/><text x="1194" y="244">Rrm2</text></g>
<g id="d-Mcm3"><circle class="y" cx="1105" cy="258" r="15"/><text x="1105" y="258">Mcm3</text></g>
<g id="d-Top2a"><circle class="y" cx="1153" cy="268" r="16"/><text x="1153" y="268">Top2a</text></g>
<g id="d-Kif18b"><circle class="y" cx="1180" cy="282" r="14"/><text x="1180" y="282">Kif18b</text></g>
<g id="d-Chaf1a"><circle class="y" cx="1218" cy="279" r="11"/><text x="1218" y="279">Chaf1a</text></g>
<g id="d-Sgo1"><circle class="y" cx="1097" cy="307" r="14"/><text x="1097" y="307">Sgo1</text></g>
<g id="d-Kif2c"><circle class="y" cx="1133" cy="302" r="15"/><text x="1133" y="302">Kif2c</text></g>
<g id="d-Cdca7"><circle class="y" cx="1226" cy="314" r="12"/><text x="1226" y="314">Cdca7</text></g>
<g id="d-Bora"><circle class="y" cx="1121" cy="336" r="11"/><text x="1121" y="336">Bora</text></g>
<g id="d-Ccna2"><circle class="y" cx="1150" cy="331" r="16"/><text x="1150" y="331">Ccna2</text></g>
<g id="d-Pclaf"><circle class="y" cx="1191" cy="327" r="14"/><text x="1191" y="327">Pclaf</text></g>
<g id="d-Cdk1"><circle class="y" cx="1077" cy="339" r="16"/><text x="1077" y="339">Cdk1</text></g>
<g id="d-Uhrf1"><circle class="y" cx="1232" cy="361" r="15"/><text x="1232" y="361">Uhrf1</text></g>
<g id="d-Bub1b"><circle class="y" cx="1180" cy="368" r="16"/><text x="1180" y="368">Bub1b</text></g>
<g id="d-Prc1"><circle class="y" cx="1125" cy="372" r="15"/><text x="1125" y="372">Prc1</text></g>
<g id="d-Cenpf"><circle class="y" cx="1078" cy="381" r="15"/><text x="1078" y="381">Cenpf</text></g>
<g id="d-Anln"><circle class="y" cx="1154" cy="395" r="14"/><text x="1154" y="395">Anln</text></g>
<g id="d-Sept4"><circle class="y" cx="1214" cy="389" r="9"/><text x="1214" y="389">Sept4</text></g>
<g id="d-Tk1"><circle class="y" cx="1119" cy="409" r="14"/><text x="1119" y="409">Tk1</text></g>
<g id="d-Nphs2"><circle class="y" cx="1194" cy="412" r="9"/><text x="1194" y="412">Nphs2</text></g>
<g id="d-Galk1"><circle class="y" cx="1151" cy="425" r="9"/><text x="1151" y="425" font-size="8">Galk1</text></g>
</g>
<g id="d-legend" class="leg">
<circle cx="698" cy="398" r="24"/><text x="698" y="398" font-size="12">38</text>
<circle cx="747" cy="403" r="18.5"/><text x="747" y="403" font-size="12">25</text>
<circle cx="785" cy="408" r="14"/><text x="785" y="408" font-size="12">13</text>
<circle cx="812" cy="413" r="8.5"/><text x="812" y="413" font-size="11">0</text>
<text x="836" y="417" font-size="12" style="text-anchor:start;dominant-baseline:auto">Node Size: Degree</text>
</g>

<!-- Panel (b) -->
<g id="panel-b">
<text class="pl" x="14" y="460">(b)</text>
<text class="ttl" x="220" y="453">BioPlanet 2019</text>
<rect x="130" y="458" width="180" height="327" fill="#ebebeb"/>
<path class="mn" d="M150 458V785M191 458V785M232 458V785M273 458V785"/>
<path class="mj" d="M171 458V785M211 458V785M252 458V785M293 458V785M130 497H310M130 560H310M130 622H310M130 685H310M130 748H310"/>
<line class="dsh" x1="302" y1="458" x2="302" y2="785"/>
<path class="tc" d="M127 497H130M127 560H130M127 622H130M127 685H130M127 748H130M171 785V788M211 785V788M252 785V788M293 785V788"/>
<circle cx="252" cy="497" r="8" fill="#ff1200"/>
<circle cx="139" cy="560" r="10.5" fill="#ff9900"/>
<circle cx="140" cy="622" r="12" fill="#ffff66"/>
<circle cx="139" cy="685" r="7.5" fill="#ff3300"/>
<circle cx="139" cy="748" r="11" fill="#ffaa00"/>
<text class="lab" x="70" y="494">BDNF signaling</text><text class="lab" x="70" y="507">pathway</text>
<text class="lab" x="70" y="542">Parkin role in</text><text class="lab" x="70" y="556">the ubiquitin–</text><text class="lab" x="70" y="569">proteasomal</text><text class="lab" x="70" y="582">pathway</text>
<text class="lab" x="70" y="612">Lipid digestion,</text><text class="lab" x="70" y="626">mobilization,</text><text class="lab" x="70" y="639">and transport</text>
<text class="lab" x="70" y="675">Adherens junction</text><text class="lab" x="70" y="689">actin cytoskeletal</text><text class="lab" x="70" y="702">organization</text>
<text class="lab" x="70" y="745">ABCA transporters</text><text class="lab" x="70" y="758">in lipid homeostasis</text>
<text class="lg" x="245" y="613">Odds Ratio</text>
<rect x="252" y="616" width="13" height="62" fill="url(#cb)"/>
<path stroke="#fff" stroke-width=".8" d="M252 619h3M262 619h3M252 638h3M262 638h3M252 657h3M262 657h3M252 675h3M262 675h3"/>
<text class="lgn" x="268" y="619">20</text><text class="lgn" x="268" y="638">15</text><text class="lgn" x="268" y="657">10</text><text class="lgn" x="268" y="675">5</text>
<text class="lg" x="245" y="693">Combined</text><text class="lg" x="245" y="703">Score</text>
<circle cx="258" cy="716" r="10"/><circle cx="258" cy="738" r="12"/><circle cx="258" cy="764" r="14"/>
<text class="lgn" x="273" y="716">50</text><text class="lgn" x="273" y="738">70</text><text class="lgn" x="273" y="764">90</text>
<text class="tk" x="171" y="799">0.50</text><text class="tk" x="211" y="799">0.75</text><text class="tk" x="252" y="799">1.00</text><text class="tk" x="293" y="799">1.25</text>
<text class="ax" x="220" y="811">-Log<tspan font-size="7" dy="3">10</tspan><tspan dy="-3"> Adj. Pval.</tspan></text>
</g>

<!-- Panel (c) -->
<g id="panel-c">
<text class="pl" x="336" y="460">(c)</text>
<text class="ttl" x="544" y="453">Reactome 2022</text>
<rect x="451" y="458" width="180" height="327" fill="#ebebeb"/>
<path class="mn" d="M471 458V785M543 458V785M616 458V785"/>
<path class="mj" d="M508 458V785M579 458V785M451 497H631M451 560H631M451 622H631M451 685H631M451 748H631"/>
<line class="dsh" x1="623" y1="458" x2="623" y2="785"/>
<path class="tc" d="M448 497H451M448 560H451M448 622H451M448 685H451M448 748H451M508 785V788M579 785V788"/>
<circle cx="460" cy="497" r="13" fill="#ffe800"/>
<circle cx="460" cy="560" r="12" fill="#ffff88"/>
<circle cx="460" cy="622" r="12" fill="#ffff40"/>
<circle cx="460" cy="685" r="8" fill="#ff0d00"/>
<circle cx="460" cy="748" r="10.5" fill="#ffaa00"/>
<text class="lab" x="389" y="486">RNA Polymerase III</text><text class="lab" x="389" y="499">Transcription</text><text class="lab" x="389" y="512">Termination</text>
<text class="lab" x="389" y="556">RNA Polymerase III</text><text class="lab" x="389" y="569">Chain Elongation</text>
<text class="lab" x="389" y="599">Regulation Of</text><text class="lab" x="389" y="612">Cholesterol</text><text class="lab" x="389" y="625">Biosynthesis</text><text class="lab" x="389" y="639">By SREBP</text><text class="lab" x="389" y="652">(SREBF)</text>
<text class="lab" x="389" y="682">Adherens Junctions</text><text class="lab" x="389" y="695">Interactions</text>
<text class="lab" x="389" y="744">ABC Transporters</text><text class="lab" x="389" y="758">In Lipid Homeostasis</text>
<text class="lg" x="565" y="607">Odds Ratio</text>
<rect x="572" y="612" width="13" height="61" fill="url(#cb)"/>
<path stroke="#fff" stroke-width=".8" d="M572 624h3M582 624h3M572 640h3M582 640h3M572 655h3M582 655h3M572 670h3M582 670h3"/>
<text class="lgn" x="588" y="624">12</text><text class="lgn" x="588" y="640">10</text><text class="lgn" x="588" y="655">8</text><text class="lgn" x="588" y="670">6</text>
<text class="lg" x="565" y="690">Combined</text><text class="lg" x="565" y="700">Score</text>
<circle cx="579" cy="711" r="8"/><circle cx="579" cy="734" r="11"/><circle cx="579" cy="762" r="13"/>
<text class="lgn" x="595" y="711">30</text><text class="lgn" x="595" y="734">50</text><text class="lgn" x="595" y="762">70</text>
<text class="tk" x="508" y="799">0.5</text><text class="tk" x="579" y="799">1.0</text>
<text class="ax" x="544" y="811">-Log<tspan font-size="7" dy="3">10</tspan><tspan dy="-3"> Adj. Pval.</tspan></text>
</g>

<!-- Panel (e) -->
<g id="panel-e">
<text class="pl" x="662" y="461">(e)</text>
<text class="ttl" x="909" y="453">BioPlanet 2019</text>
<rect x="815" y="459" width="180" height="332" fill="#ebebeb"/>
<path class="mn" d="M836 459V791M879 459V791M921 459V791M964 459V791"/>
<path class="mj" d="M857 459V791M900 459V791M942 459V791M985 459V791M815 497H995M815 560H995M815 624H995M815 688H995M815 752H995"/>
<line class="dsh" x1="823" y1="459" x2="823" y2="791"/>
<path class="tc" d="M812 497H815M812 560H815M812 624H815M812 688H815M812 752H815M857 791V794M900 791V794M942 791V794M985 791V794"/>
<g clip-path="url(#ce)">
<circle cx="985" cy="497" r="13" fill="#ff9500"/>
<circle cx="852" cy="560" r="11" fill="#ff6a00"/>
<circle cx="852" cy="624" r="12.5" fill="#ffff88"/>
<circle cx="852" cy="688" r="12" fill="#ffff44"/>
<circle cx="852" cy="752" r="9" fill="#ff1500"/>
</g>
<text class="lab" x="734" y="492">Interleukin−4 regulation</text><text class="lab" x="734" y="506">of apoptosis</text>
<text class="lab" x="734" y="536">Transport of glucose</text><text class="lab" x="734" y="550">and other sugars,</text><text class="lab" x="734" y="564">bile salts and organic acids,</text><text class="lab" x="734" y="578">metal ions and</text><text class="lab" x="734" y="591">amine compounds</text>
<text class="lab" x="734" y="621">TGF−beta regulation</text><text class="lab" x="734" y="634">of extracellular matrix</text>
<text class="lab" x="734" y="685">Neural crest</text><text class="lab" x="734" y="698">differentiation</text>
<text class="lab" x="734" y="749">BDNF signaling</text><text class="lab" x="734" y="763">pathway</text>
<text class="lg" x="940" y="581">Odds Ratio</text>
<rect x="947" y="584" width="14" height="64" fill="url(#cb)"/>
<path stroke="#fff" stroke-width=".8" d="M947 590h3M958 590h3M947 604h3M958 604h3M947 618h3M958 618h3M947 631h3M958 631h3M947 645h3M958 645h3"/>
<text class="lgn" x="964" y="590">7</text><text class="lgn" x="964" y="604">6</text><text class="lgn" x="964" y="618">5</text><text class="lgn" x="964" y="631">4</text><text class="lgn" x="964" y="645">3</text>
<text class="lg" x="940" y="666">Combined</text><text class="lg" x="940" y="676">Score</text>
<circle cx="954" cy="688" r="9"/><circle cx="954" cy="710" r="11"/><circle cx="954" cy="737" r="12.5"/><circle cx="954" cy="767" r="13.5"/>
<text class="lgn" x="975" y="688">30</text><text class="lgn" x="975" y="710">40</text><text class="lgn" x="975" y="737">50</text><text class="lgn" x="975" y="767">60</text>
<text class="tk" x="857" y="802">1.50</text><text class="tk" x="900" y="802">1.75</text><text class="tk" x="942" y="802">2.00</text><text class="tk" x="985" y="802">2.25</text>
<text class="ax" x="918" y="816">-Log<tspan font-size="7" dy="3">10</tspan><tspan dy="-3"> Adj. Pval.</tspan></text>
</g>

<!-- Panel (f) -->
<g id="panel-f">
<text class="pl" x="1013" y="455">(f)</text>
<text class="ttl" x="1257" y="453">Reactome 2022</text>
<rect x="1163" y="459" width="176" height="328" fill="#ebebeb"/>
<path class="mn" d="M1176 459V787M1210 459V787M1245 459V787M1279 459V787M1314 459V787"/>
<path class="mj" d="M1193 459V787M1227 459V787M1262 459V787M1297 459V787M1332 459V787M1163 497H1339M1163 560H1339M1163 623H1339M1163 686H1339M1163 748H1339"/>
<line class="dsh" x1="1333" y1="459" x2="1333" y2="787"/>
<path class="tc" d="M1160 497H1163M1160 560H1163M1160 623H1163M1160 686H1163M1160 748H1163M1193 787V790M1227 787V790M1262 787V790M1297 787V790M1332 787V790"/>
<g clip-path="url(#cf)">
<circle cx="1227" cy="497" r="6" fill="#ff2200"/>
<circle cx="1227" cy="560" r="4.5" fill="#ff1a00"/>
<circle cx="1227" cy="623" r="5.5" fill="#ff1a00"/>
<circle cx="1227" cy="686" r="6" fill="#ff2200"/>
<circle cx="1172" cy="748" r="12.5" fill="#ffff77"/>
</g>
<text class="lab" x="1083" y="480">Transport Of Bile Salts</text><text class="lab" x="1083" y="494">And Organic Acids,</text><text class="lab" x="1083" y="507">Metal Ions And</text><text class="lab" x="1083" y="520">Amine Compounds</text>
<text class="lab" x="1083" y="555">Interleukin−4 And</text><text class="lab" x="1083" y="569">Interleukin−13 Signaling</text>
<text class="lab" x="1083" y="625">Hemostasis</text>
<text class="lab" x="1083" y="680">Extracellular Matrix</text><text class="lab" x="1083" y="694">Organization</text>
<text class="lab" x="1083" y="738">Sodium−coupled Sulphate,</text><text class="lab" x="1083" y="752">Di− And Tri−Carboxylate</text><text class="lab" x="1083" y="765">Transporters</text>
<text class="lg" x="1278" y="602">Odds Ratio</text>
<rect x="1285" y="606" width="13" height="61" fill="url(#cb)"/>
<path stroke="#fff" stroke-width=".8" d="M1285 613h3M1295 613h3M1285 632h3M1295 632h3M1285 650h3M1295 650h3"/>
<text class="lgn" x="1302" y="613">60</text><text class="lgn" x="1302" y="632">40</text><text class="lgn" x="1302" y="650">20</text>
<text class="lg" x="1278" y="680">Combined</text><text class="lg" x="1278" y="690">Score</text>
<circle cx="1292" cy="698" r="6"/><circle cx="1292" cy="717" r="9"/><circle cx="1292" cy="740" r="11"/><circle cx="1292" cy="765" r="13"/>
<text class="lgn" x="1307" y="698">100</text><text class="lgn" x="1307" y="717">200</text><text class="lgn" x="1307" y="740">300</text><text class="lgn" x="1307" y="765">400</text>
<text class="tk" x="1193" y="798">1.10</text><text class="tk" x="1227" y="798">1.15</text><text class="tk" x="1262" y="798">1.20</text><text class="tk" x="1297" y="798">1.25</text><text class="tk" x="1330" y="798">1.30</text>
<text class="ax" x="1263" y="811">-Log<tspan font-size="7" dy="3">10</tspan><tspan dy="-3"> Adj. Pval.</tspan></text>
</g>
</svg>
